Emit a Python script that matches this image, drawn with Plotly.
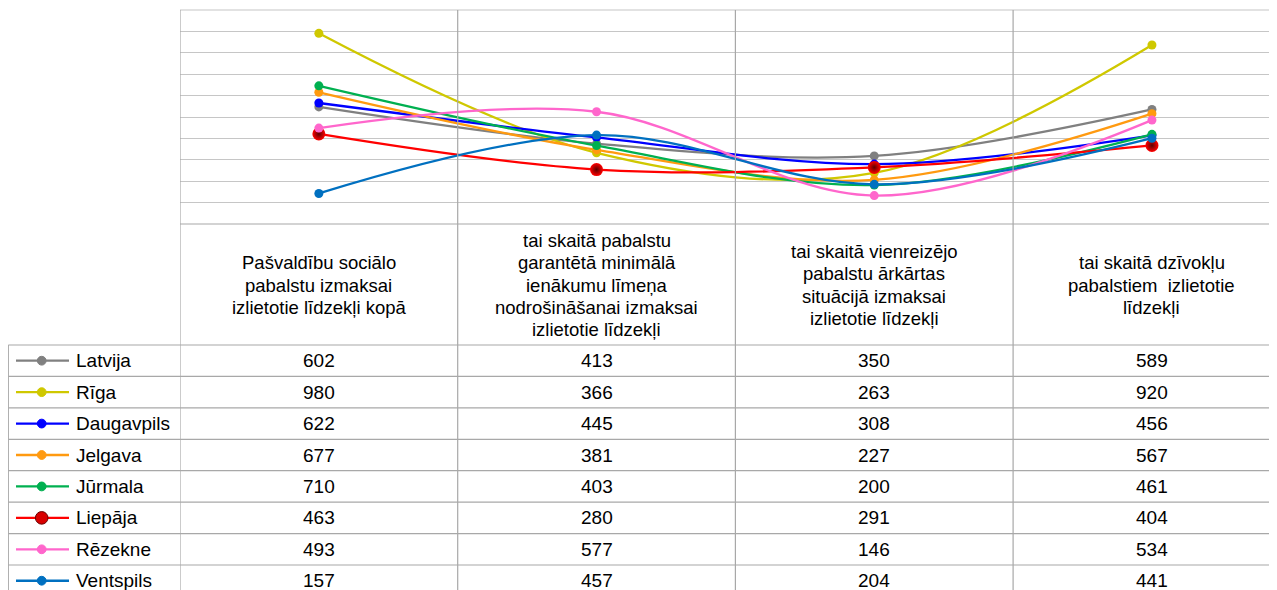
import plotly.graph_objects as go

# column headers (one string per category, lines split by "\n")
categories = [
    "Pašvaldību sociālo\npabalstu izmaksai\nizlietotie līdzekļi kopā",
    "tai skaitā pabalstu\ngarantētā minimālā\nienākumu līmeņa\nnodrošināšanai izmaksai\nizlietotie līdzekļi",
    "tai skaitā vienreizējo\npabalstu ārkārtas\nsituācijā izmaksai\nizlietotie līdzekļi",
    "tai skaitā dzīvokļu\npabalstiem  izlietotie\nlīdzekļi",
]

series_names = ["Latvija", "Rīga", "Daugavpils", "Jelgava", "Jūrmala", "Liepāja", "Rēzekne", "Ventspils"]

latvija = [602, 413, 350, 589]
riga = [980, 366, 263, 920]
daugavpils = [622, 445, 308, 456]
jelgava = [677, 381, 227, 567]
jurmala = [710, 403, 200, 461]
liepaja = [463, 280, 291, 404]
rezekne = [493, 577, 146, 534]
ventspils = [157, 457, 204, 441]

series_values = [latvija, riga, daugavpils, jelgava, jurmala, liepaja, rezekne, ventspils]
colors = ["#808080", "#cfc800", "#0000ff", "#ff9a10", "#00b050", "#ff0000", "#ff66cc", "#0070c0"]

FONT = "Liberation Sans, Arial, sans-serif"
# the page body has an 8px margin, so the figure starts at (8, 8) in the window
OFF = 8
W, H = 1277 - OFF, 590 - OFF
ML, MT, MB = 180 - OFF, 10 - OFF, 366
PW = W - ML
PH = H - MT - MB
COLW = 277.7
GRID = "#c6c6c6"
TLINE = "#a8a8a8"


def px(x):
    # window pixel x -> paper
    return (x - OFF - ML) / PW


def py(y):
    # window pixel y -> paper
    return (H - MB - (y - OFF)) / PH


x_idx = list(range(len(categories)))

fig = go.Figure()
for i, name in enumerate(series_names):
    is_sphere = name == "Liepāja"
    marker = dict(size=13 if is_sphere else 9, color=colors[i], line=dict(width=0))
    if is_sphere:
        marker["gradient"] = dict(type="radial", color="#5c0000")
    fig.add_trace(go.Scatter(
        x=x_idx, y=series_values[i], name=name,
        mode="lines+markers",
        line=dict(shape="spline", smoothing=1, width=2.3, color=colors[i]),
        marker=marker, showlegend=False, cliponaxis=False,
    ))

shapes = []
annotations = []

# plot top border
shapes.append(dict(type="line", xref="paper", yref="paper", x0=0, x1=1, y0=1, y1=1,
                   line=dict(color=GRID, width=1.2)))
# vertical column separators (plot + table)
for b in [-0.5, 0.5, 1.5, 2.5]:
    shapes.append(dict(type="line", xref="x", yref="paper", x0=b, x1=b, y0=1, y1=py(600),
                       line=dict(color=TLINE, width=1.2)))
# header top line
shapes.append(dict(type="line", xref="paper", yref="paper", x0=0, x1=1, y0=0, y1=0,
                   line=dict(color=TLINE, width=1.2)))
# table rows
ROW0, ROWH = 345, 31.43
for k in range(len(series_names) + 1):
    yk = py(ROW0 + k * ROWH)
    shapes.append(dict(type="line", xref="paper", yref="paper", x0=px(8.3), x1=1, y0=yk, y1=yk,
                       line=dict(color=TLINE, width=1.2)))
shapes.append(dict(type="line", xref="paper", yref="paper", x0=px(8.3), x1=px(8.3),
                   y0=py(ROW0), y1=py(600), line=dict(color=TLINE, width=1.2)))

# header text, one annotation per line
LS = 22.2
for j, cat in enumerate(categories):
    lines = cat.split("\n")
    n = len(lines)
    for i, ln in enumerate(lines):
        yc = 285 + (i - (n - 1) / 2) * LS
        annotations.append(dict(x=j, xref="x", y=py(yc), yref="paper", text=ln, showarrow=False,
                                xanchor="center", yanchor="middle",
                                font=dict(family=FONT, size=18.5, color="#000000")))

# data rows with legend keys
for i, name in enumerate(series_names):
    yc = ROW0 + (i + 0.5) * ROWH
    shapes.append(dict(type="line", xref="paper", yref="paper", x0=px(16), x1=px(69),
                       y0=py(yc), y1=py(yc), line=dict(color=colors[i], width=2.3)))
    r = 6.3 if name == "Liepāja" else 4.4
    fill = "#d80000" if name == "Liepāja" else colors[i]
    edge = "#6a0000" if name == "Liepāja" else colors[i]
    shapes.append(dict(type="circle", xref="paper", yref="paper",
                       x0=px(41.7 - r), x1=px(41.7 + r), y0=py(yc - r), y1=py(yc + r),
                       fillcolor=fill, line=dict(color=edge, width=1)))
    annotations.append(dict(x=px(74), xref="paper", y=py(yc), yref="paper", text=name,
                            showarrow=False, xanchor="left", yanchor="middle",
                            font=dict(family=FONT, size=19, color="#000000")))
    for j, v in enumerate(series_values[i]):
        annotations.append(dict(x=j, xref="x", y=py(yc), yref="paper", text=str(v),
                                showarrow=False, xanchor="center", yanchor="middle",
                                font=dict(family=FONT, size=19, color="#000000")))

fig.update_layout(
    width=W, height=H,
    margin=dict(l=ML, r=0, t=MT, b=MB, pad=0),
    paper_bgcolor="white", plot_bgcolor="white",
    xaxis=dict(range=[-0.5, -0.5 + PW / COLW], showgrid=False, zeroline=False,
               showticklabels=False, showline=False, fixedrange=True),
    yaxis=dict(range=[0, 1100], dtick=110, tick0=0, showgrid=True, gridcolor=GRID, gridwidth=1.2,
               zeroline=False, showticklabels=False, showline=False, fixedrange=True),
    shapes=shapes, annotations=annotations,
    showlegend=False,
)

fig.write_html("out.html")
